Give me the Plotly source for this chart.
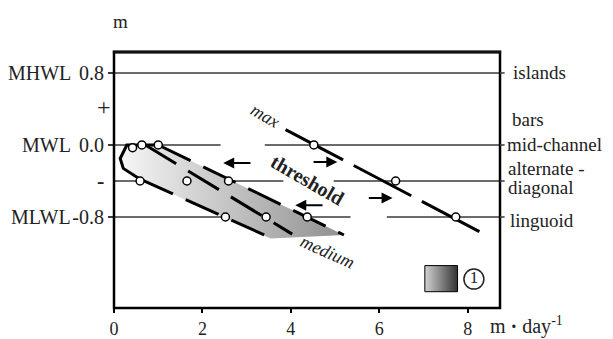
import plotly.graph_objects as go

# ---- data ----
LEVELS = [0.8, 0.0, -0.4, -0.8]
LEVEL_SEGMENTS = [  # (level, x_start, x_end)
    (0.8, 0.0, 8.73),
    (0.0, 0.0, 2.41), (0.0, 3.41, 8.73),
    (-0.4, 0.0, 3.83), (-0.4, 4.97, 8.73),
    (-0.8, 0.0, 5.35), (-0.8, 6.17, 8.73),
]
LEFT_NAMES = ["MHWL", "MWL", "MLWL"]
LEFT_NAME_Y = [0.8, 0.0, -0.8]
Y_TICKS = [0.8, 0.0, -0.8]
Y_TICKTEXT = ["0.8", "0.0", "-0.8"]
X_TICKS = [0, 2, 4, 6, 8]

RIGHT_LABELS = ["islands", "mid-channel", "alternate -", "diagonal", "linguoid"]
RIGHT_LABEL_Y = [0.8, 0.0, -0.26, -0.47, -0.84]
RIGHT_LABEL_X = [1.028, 1.013, 1.016, 1.016, 1.021]

# region (1) outline
REGION_X = [0.29, 1.0, 5.2, 3.54, 0.59, 0.21, 0.14, 0.29]
REGION_Y = [0.0, 0.0, -1.0, -1.04, -0.38, -0.26, -0.15, 0.0]
CAP_X = [1.0, 0.29, 0.14, 0.21, 0.59]
CAP_Y = [0.0, 0.0, -0.15, -0.26, -0.38]
LINE_A_X, LINE_A_Y = [1.0, 5.2], [0.0, -1.0]
LINE_B_X, LINE_B_Y = [0.71, 4.03], [0.0, -0.99]
LINE_C_X, LINE_C_Y = [0.59, 3.54], [-0.38, -1.03]
MAX_X, MAX_Y = [3.88, 8.49], [0.17, -1.02]

PTS_X = [0.42, 0.63, 1.0, 0.59, 1.65, 2.59, 2.52, 3.44, 4.37, 4.52, 6.37, 7.73]
PTS_Y = [-0.03, 0.0, 0.0, -0.4, -0.4, -0.4, -0.8, -0.8, -0.8, 0.0, -0.4, -0.8]

# arrows: (tail x, head x, y)
ARROWS = [(3.12, 2.47, -0.2), (4.48, 5.05, -0.19), (4.75, 4.1, -0.67), (5.73, 6.3, -0.59)]

LEG_X = [7.03, 7.77, 7.77, 7.03, 7.03]
LEG_Y = [-1.34, -1.34, -1.63, -1.63, -1.34]
LEG_NUM = (8.14, -1.49)

FONT = "Liberation Serif, DejaVu Serif, serif"
INK = "#222222"
FS = 19

fig = go.Figure()

# horizontal level lines
hx, hy = [], []
for lv, x0, x1 in LEVEL_SEGMENTS:
    hx += [x0, x1, None]
    hy += [lv, lv, None]
fig.add_trace(go.Scatter(x=hx, y=hy, mode="lines",
                         line=dict(color="#3a3a3a", width=1.5), hoverinfo="skip"))

# shaded region
fig.add_trace(go.Scatter(x=REGION_X, y=REGION_Y, mode="lines", fill="toself",
                         line=dict(width=0), fillcolor="#cccccc",
                         fillgradient=dict(type="horizontal",
                                           colorscale=[[0, "#f6f6f6"], [1, "#8f8f8f"]]),
                         hoverinfo="skip"))
# cap outline
fig.add_trace(go.Scatter(x=CAP_X, y=CAP_Y, mode="lines",
                         line=dict(color="black", width=3), hoverinfo="skip"))
for lx, ly in [(LINE_A_X, LINE_A_Y), (LINE_B_X, LINE_B_Y), (LINE_C_X, LINE_C_Y)]:
    fig.add_trace(go.Scatter(x=lx, y=ly, mode="lines",
                             line=dict(color="black", width=3, dash="36px,14px"),
                             hoverinfo="skip"))
fig.add_trace(go.Scatter(x=MAX_X, y=MAX_Y, mode="lines",
                         line=dict(color="black", width=3, dash="65px,12px"),
                         hoverinfo="skip"))
# points
fig.add_trace(go.Scatter(x=PTS_X, y=PTS_Y, mode="markers",
                         marker=dict(size=8, color="white",
                                     line=dict(color="black", width=1.5)),
                         hoverinfo="skip"))
# legend swatch
fig.add_trace(go.Scatter(x=LEG_X, y=LEG_Y, mode="lines", fill="toself",
                         line=dict(color="black", width=1), fillcolor="#777777",
                         fillgradient=dict(type="horizontal",
                                           colorscale=[[0, "#d2d2d2"], [1, "#333333"]]),
                         hoverinfo="skip"))
fig.add_trace(go.Scatter(x=[LEG_NUM[0]], y=[LEG_NUM[1]], mode="markers+text",
                         text=["1"], textposition="middle center",
                         textfont=dict(family=FONT, size=17, color=INK),
                         marker=dict(size=20, color="rgba(0,0,0,0)",
                                     line=dict(color=INK, width=1.5)),
                         hoverinfo="skip"))

ann = []
# arrows
for tx, hxx, ay in ARROWS:
    ann.append(dict(x=hxx, y=ay, ax=tx, ay=ay, xref="x", yref="y", axref="x", ayref="y",
                    showarrow=True, arrowhead=2, arrowsize=1.1, arrowwidth=2,
                    arrowcolor="black", text=""))
# left names
for name, yv in zip(LEFT_NAMES, LEFT_NAME_Y):
    ann.append(dict(x=-0.107, y=yv, xref="paper", yref="y", text=name, showarrow=False,
                    xanchor="right", yanchor="middle", font=dict(size=FS + 1)))
ann.append(dict(x=-0.048, y=0.42, xref="paper", yref="y", text="+", showarrow=False,
                font=dict(size=24)))
ann.append(dict(x=-0.048, y=-0.4, xref="paper", yref="y", text="<b>-</b>", showarrow=False,
                font=dict(size=22)))
# right labels
for t, yv, xv in zip(RIGHT_LABELS, RIGHT_LABEL_Y, RIGHT_LABEL_X):
    ann.append(dict(x=xv, y=yv, xref="paper", yref="y", text=t, showarrow=False,
                    xanchor="left", yanchor="middle", font=dict(size=FS)))
ann.append(dict(x=1.119, y=0.28, xref="paper", yref="y", text="bars", showarrow=False,
                font=dict(size=FS)))
# axis titles
ann.append(dict(x=-0.008, y=1.121, xref="paper", yref="paper", text="m", showarrow=False,
                yanchor="middle", font=dict(size=FS)))
ann.append(dict(x=0.968, y=-0.07, xref="paper", yref="paper",
                text="m <b>·</b> day<sup>-1</sup>", showarrow=False,
                xanchor="left", yanchor="middle", font=dict(size=FS + 1)))
# in-plot texts
ann.append(dict(x=3.42, y=0.32, xref="x", yref="y", text="<i>max</i>", showarrow=False,
                textangle=30, font=dict(size=18)))
ann.append(dict(x=4.38, y=-0.39, xref="x", yref="y", text="<b>threshold</b>", showarrow=False,
                textangle=30, font=dict(size=20)))
ann.append(dict(x=4.83, y=-1.19, xref="x", yref="y", text="<i>medium</i>", showarrow=False,
                textangle=24, font=dict(size=18)))

shapes = [dict(type="rect", xref="paper", yref="paper", x0=0, x1=1, y0=0, y1=1,
               line=dict(color="black", width=2.5), layer="above"),
          dict(type="line", xref="paper", yref="paper", x0=-0.003, x1=1.003, y0=1, y1=1,
               line=dict(color="#111111", width=3), layer="above")]
for lv in LEVELS:
    shapes.append(dict(type="line", xref="paper", yref="y", x0=1.0, x1=1.012, y0=lv, y1=lv,
                       line=dict(color="#3a3a3a", width=1.5)))

# the page body adds an 8px margin, so the figure is 8px smaller and shifted
fig.update_layout(
    width=605, height=331,
    margin=dict(l=106, r=113, t=44, b=31, autoexpand=False),
    paper_bgcolor="white", plot_bgcolor="white",
    showlegend=False,
    font=dict(family=FONT, color=INK, size=FS),
    annotations=ann, shapes=shapes,
    xaxis=dict(range=[0, 8.73], tickvals=X_TICKS, showgrid=False, zeroline=False,
               showline=False,
               ticks="outside", ticklen=4, tickwidth=2, tickcolor="black",
               tickfont=dict(size=18), automargin=False),
    yaxis=dict(range=[-1.811, 1.033], tickvals=Y_TICKS, ticktext=Y_TICKTEXT,
               showgrid=False, zeroline=False, showline=False,
               ticks="outside", ticklen=5, tickwidth=1.5, tickcolor="#3a3a3a",
               tickfont=dict(size=FS + 1), automargin=False),
)

fig.write_html("out.html")
